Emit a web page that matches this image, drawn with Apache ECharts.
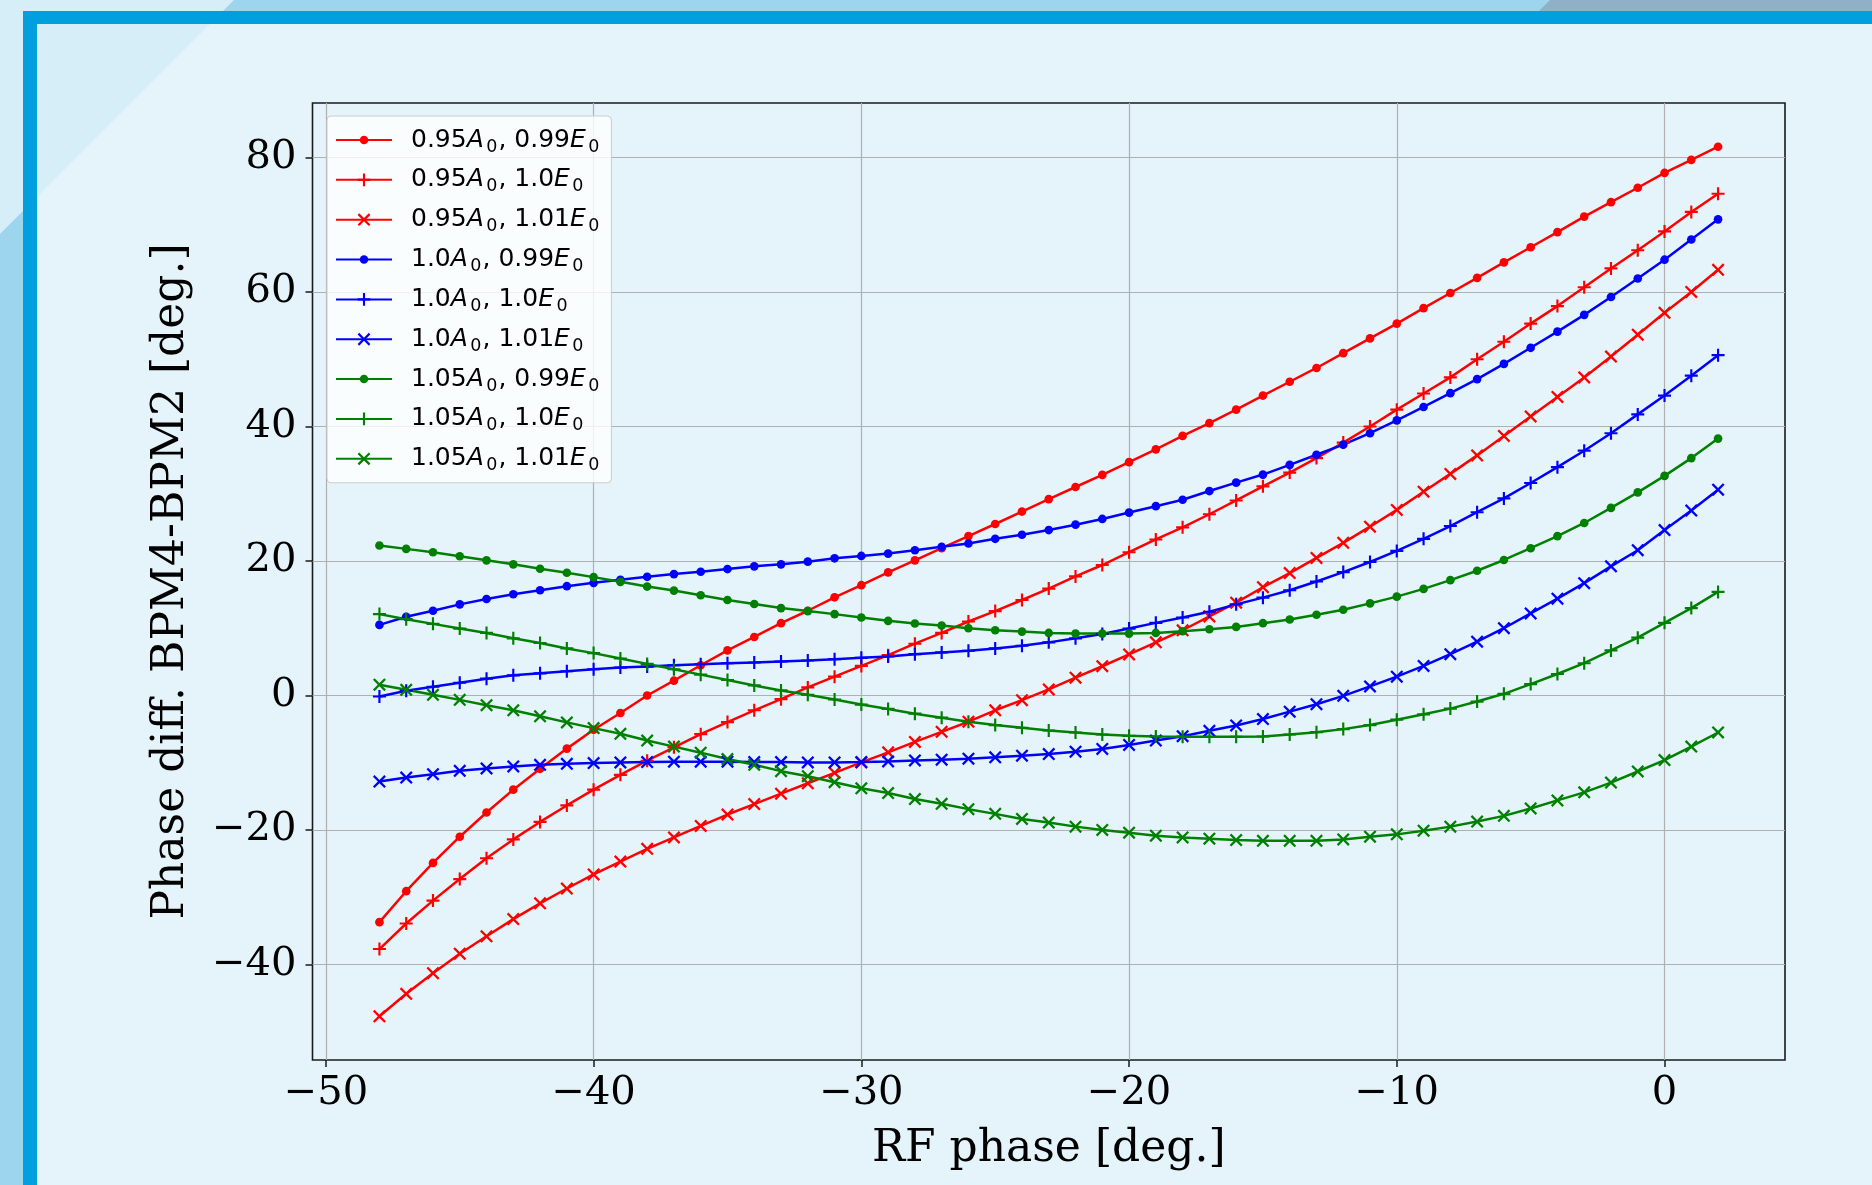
<!DOCTYPE html>
<html>
<head>
<meta charset="utf-8">
<script src="https://cdn.jsdelivr.net/npm/echarts@6/dist/echarts.min.js"></script>
<style>
html,body{margin:0;padding:0;background:#e5f4fb;}
#chart{width:1872px;height:1185px;}
</style>
</head>
<body>
<div id="chart"></div>
<script>
// RF phase values (x)
const rfPhase = [-48,-47,-46,-45,-44,-43,-42,-41,-40,-39,-38,-37,-36,-35,-34,-33,-32,-31,-30,-29,-28,-27,-26,-25,-24,-23,-22,-21,-20,-19,-18,-17,-16,-15,-14,-13,-12,-11,-10,-9,-8,-7,-6,-5,-4,-3,-2,-1,0,1,2];

const a095_e099 = [-33.7,-29.1,-24.9,-21.0,-17.4,-14.0,-10.9,-7.9,-5.1,-2.6,0.0,2.2,4.5,6.7,8.7,10.75,12.6,14.6,16.4,18.3,20.1,21.9,23.7,25.5,27.35,29.2,31.0,32.8,34.7,36.6,38.6,40.5,42.5,44.6,46.65,48.7,50.9,53.1,55.3,57.6,59.85,62.1,64.4,66.65,68.9,71.2,73.35,75.5,77.7,79.65,81.6];
const a095_e100 = [-37.7,-33.9,-30.5,-27.3,-24.2,-21.4,-18.8,-16.35,-14.0,-11.8,-9.7,-7.7,-5.75,-3.96,-2.2,-0.55,1.2,2.8,4.4,6.0,7.7,9.3,11.0,12.55,14.2,15.9,17.7,19.4,21.3,23.2,25.0,26.95,29.0,31.1,33.15,35.3,37.6,40.0,42.5,44.9,47.3,50.0,52.6,55.3,57.9,60.7,63.5,66.2,69.0,71.9,74.6];
const a095_e101 = [-47.7,-44.35,-41.3,-38.4,-35.8,-33.25,-30.9,-28.7,-26.6,-24.7,-22.8,-21.1,-19.4,-17.7,-16.15,-14.6,-13.05,-11.5,-9.95,-8.45,-6.9,-5.4,-3.9,-2.2,-0.7,0.9,2.65,4.35,6.1,7.9,9.7,11.75,13.8,16.1,18.2,20.45,22.7,25.1,27.6,30.3,32.95,35.7,38.6,41.5,44.4,47.3,50.4,53.65,56.9,60.0,63.3];
const a100_e099 = [10.5,11.7,12.6,13.55,14.35,15.05,15.65,16.25,16.75,17.2,17.65,18.05,18.4,18.8,19.2,19.5,19.9,20.4,20.75,21.1,21.6,22.1,22.6,23.3,23.9,24.6,25.4,26.25,27.2,28.15,29.1,30.4,31.65,32.85,34.3,35.8,37.3,39.0,40.9,42.9,44.95,47.05,49.3,51.7,54.1,56.6,59.25,62.0,64.8,67.8,70.8];
const a100_e100 = [-0.15,0.7,1.3,1.9,2.5,3.0,3.3,3.6,3.9,4.15,4.3,4.5,4.65,4.8,4.9,5.05,5.2,5.4,5.6,5.8,6.15,6.4,6.65,7.0,7.4,7.9,8.5,9.15,9.95,10.8,11.6,12.45,13.55,14.55,15.65,16.95,18.35,19.85,21.5,23.3,25.2,27.25,29.3,31.6,33.95,36.4,39.0,41.8,44.6,47.55,50.6];
const a100_e101 = [-12.8,-12.2,-11.7,-11.2,-10.85,-10.55,-10.3,-10.15,-10.05,-9.95,-9.9,-9.85,-9.85,-9.85,-9.9,-9.9,-9.95,-9.95,-9.9,-9.8,-9.65,-9.55,-9.4,-9.2,-8.95,-8.7,-8.35,-7.95,-7.35,-6.7,-6.05,-5.25,-4.45,-3.5,-2.4,-1.3,-0.05,1.35,2.8,4.4,6.15,8.0,10.0,12.2,14.4,16.7,19.2,21.6,24.6,27.5,30.6];
const a105_e099 = [22.3,21.8,21.3,20.7,20.1,19.5,18.85,18.25,17.6,16.9,16.2,15.6,14.9,14.2,13.6,13.0,12.55,12.1,11.6,11.1,10.7,10.4,10.0,9.7,9.5,9.3,9.2,9.2,9.2,9.3,9.55,9.85,10.2,10.75,11.3,12.0,12.75,13.7,14.7,15.85,17.15,18.55,20.15,21.9,23.7,25.65,27.9,30.2,32.65,35.3,38.2];
const a105_e100 = [12.1,11.35,10.65,9.95,9.3,8.5,7.8,7.0,6.3,5.5,4.7,3.9,3.1,2.3,1.5,0.75,0.1,-0.6,-1.35,-2.0,-2.7,-3.3,-3.9,-4.4,-4.8,-5.2,-5.5,-5.8,-6.0,-6.1,-6.15,-6.15,-6.15,-6.1,-5.8,-5.45,-5.0,-4.4,-3.6,-2.8,-1.95,-0.9,0.25,1.7,3.2,4.8,6.7,8.6,10.8,13.0,15.4];
const a105_e101 = [1.6,0.85,0.1,-0.65,-1.45,-2.2,-3.1,-4.0,-4.85,-5.7,-6.7,-7.6,-8.5,-9.45,-10.3,-11.25,-12.0,-12.9,-13.8,-14.5,-15.4,-16.1,-16.9,-17.6,-18.35,-18.9,-19.5,-20.0,-20.4,-20.85,-21.1,-21.3,-21.5,-21.6,-21.6,-21.6,-21.4,-21.0,-20.65,-20.1,-19.5,-18.75,-17.9,-16.8,-15.6,-14.4,-12.95,-11.3,-9.6,-7.6,-5.5];

// legend labels: amplitude factor, energy factor
const amplitudes = ['0.95','0.95','0.95','1.0','1.0','1.0','1.05','1.05','1.05'];
const energies   = ['0.99','1.0','1.01','0.99','1.0','1.01','0.99','1.0','1.01'];
const seriesValues = [a095_e099,a095_e100,a095_e101,a100_e099,a100_e100,a100_e101,a105_e099,a105_e100,a105_e101];

const xTicks = [-50,-40,-30,-20,-10,0];
const yTicks = [-40,-20,0,20,40,60,80];
const xLabel = 'RF phase [deg.]';
const yLabel = 'Phase diff. BPM4-BPM2 [deg.]';

const colors = ['#ff0000','#ff0000','#ff0000','#0000ff','#0000ff','#0000ff','#008000','#008000','#008000'];
const DOT = 'path://M0 0L0 0M12 12L12 12M10 6A4 4 0 1 1 2 6A4 4 0 1 1 10 6Z';
const PLUS = 'path://M0 0L0 0M12 12L12 12M5 0H7V5H12V7H7V12H5V7H0V5H5Z';
const CROSS = 'path://M1.5 0L6 4.5L10.5 0L12 1.5L7.5 6L12 10.5L10.5 12L6 7.5L1.5 12L0 10.5L4.5 6L0 1.5Z';
const markers = [DOT,PLUS,CROSS,DOT,PLUS,CROSS,DOT,PLUS,CROSS];

const minus = v => (v < 0 ? '\u2212' + Math.abs(v) : String(v));

const series = seriesValues.map((vals, i) => ({
  type: 'line',
  name: amplitudes[i] + '|' + energies[i] + '|' + i,
  data: vals.map((v, k) => [rfPhase[k], v]),
  symbol: markers[i],
  symbolSize: 13,
  showSymbol: true,
  showAllSymbol: true,
  animation: false,
  color: colors[i],
  lineStyle: { width: 2.5, color: colors[i] },
  itemStyle: { color: colors[i], borderWidth: 0 },
  emphasis: { disabled: true }
}));

const chart = echarts.init(document.getElementById('chart'), null, { renderer: 'canvas' });
const serif = 'DejaVu Serif';
const sans = 'DejaVu Sans';

chart.setOption({
  backgroundColor: '#e5f4fb',
  animation: false,
  graphic: [
    { type: 'rect', shape: { x: 0, y: 0, width: 1872, height: 11 }, style: { fill: '#9ed5ee' }, silent: true },
    { type: 'rect', shape: { x: 0, y: 0, width: 23, height: 1185 }, style: { fill: '#9ed5ee' }, silent: true },
    { type: 'polygon', shape: { points: [[0,0],[234,0],[0,234]] }, style: { fill: '#d6eef8' }, silent: true },
    { type: 'polygon', shape: { points: [[1550,0],[1872,0],[1872,11],[1539,11]] }, style: { fill: '#8fb0c6' }, silent: true },
    { type: 'rect', shape: { x: 23, y: 11, width: 1849, height: 13 }, style: { fill: '#00a0df' }, silent: true },
    { type: 'rect', shape: { x: 23, y: 11, width: 14, height: 1174 }, style: { fill: '#00a0df' }, silent: true }
  ],
  grid: {
    left: 312.5, top: 103, right: 87, bottom: 125,
    show: true, borderColor: '#1a1a1a', borderWidth: 1.6, backgroundColor: 'transparent'
  },
  legend: {
    left: 327, top: 116, orient: 'vertical',
    padding: [8, 11, 8, 8],
    itemWidth: 56, itemHeight: 16, itemGap: 7.85,
    backgroundColor: 'rgba(255,255,255,0.8)',
    borderColor: '#cccccc', borderWidth: 1, borderRadius: 4,
    itemStyle: { borderWidth: 0 },
    data: series.map(s => s.name),
    formatter: function (name) {
      const p = name.split('|');
      return '{f|' + p[0] + '}{i|A}{s|0}{n|, ' + p[1] + '}{i|E}{s|0}';
    },
    textStyle: {
      color: '#000', fontFamily: sans, fontSize: 25, lineHeight: 30,
      rich: {
        f: { fontFamily: sans, fontSize: 25, lineHeight: 30, color: '#000', padding: [0, 0, 0, 14] },
        n: { fontFamily: sans, fontSize: 25, lineHeight: 30, color: '#000' },
        i: { fontFamily: sans, fontSize: 25, lineHeight: 30, color: '#000', fontStyle: 'italic', padding: [0, 1.5, 0, 0] },
        s: { fontFamily: sans, fontSize: 17.5, lineHeight: 30, color: '#000', padding: [14, 1, 0, 1] }
      }
    }
  },
  xAxis: {
    type: 'value', min: -50.5, max: 4.5,
    name: xLabel, nameLocation: 'middle', nameGap: 68,
    nameTextStyle: { fontFamily: serif, fontSize: 44, color: '#000' },
    axisLine: { show: false, onZero: false },
    axisTick: { show: true, length: 7, customValues: xTicks, lineStyle: { color: '#1a1a1a', width: 1.5 } },
    axisLabel: { customValues: xTicks, formatter: minus, fontFamily: serif, fontSize: 40, color: '#000', margin: 14 },
    splitLine: { show: true, lineStyle: { color: '#b0b0b0', width: 1.2 } }
  },
  yAxis: {
    type: 'value', min: -54.2, max: 88.1,
    name: yLabel, nameLocation: 'middle', nameGap: 118.5, nameRotate: 90,
    nameTextStyle: { fontFamily: serif, fontSize: 44, color: '#000' },
    axisLine: { show: false, onZero: false },
    axisTick: { show: true, length: 7, customValues: yTicks, lineStyle: { color: '#1a1a1a', width: 1.5 } },
    axisLabel: { customValues: yTicks, formatter: minus, fontFamily: serif, fontSize: 40, color: '#000', margin: 16 },
    splitLine: { show: true, lineStyle: { color: '#b0b0b0', width: 1.2 } }
  },
  series: series
});
</script>
</body>
</html>
